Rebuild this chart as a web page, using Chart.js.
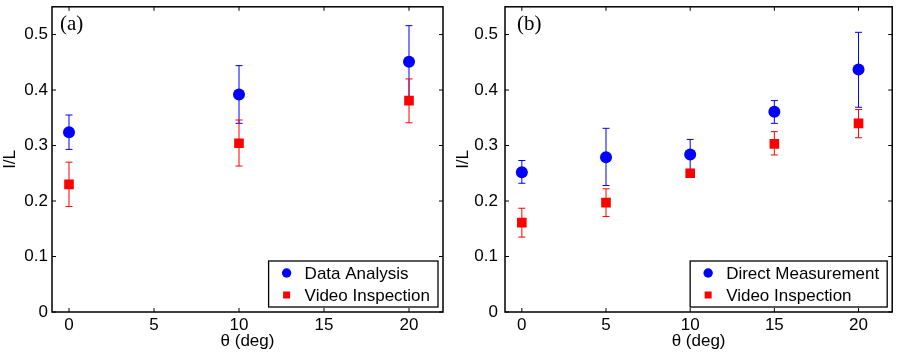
<!DOCTYPE html>
<html>
<head>
<meta charset="utf-8">
<script src="https://cdn.jsdelivr.net/npm/chart.js@4.4.1/dist/chart.umd.min.js"></script>
<style>
  html, body { margin: 0; padding: 0; background: #fff; }
  #wrap { position: relative; width: 899px; height: 353px; overflow: hidden; }
  canvas { position: absolute; top: 0; }
</style>
</head>
<body>
<div id="wrap">
  <canvas id="chartA" width="450" height="353" style="left:0px"></canvas>
  <canvas id="chartB" width="449" height="353" style="left:450px"></canvas>
</div>
<script>
// panel (a)
var anglesA = [0, 10, 20];
var analysisA = [0.324, 0.392, 0.451];
var analysisALo = [0.293, 0.340, 0.386];
var analysisAHi = [0.355, 0.444, 0.516];
var videoA = [0.230, 0.304, 0.381];
var videoALo = [0.190, 0.263, 0.341];
var videoAHi = [0.270, 0.346, 0.420];

// panel (b)
var anglesB = [0, 5, 10, 15, 20];
var directB = [0.252, 0.279, 0.284, 0.361, 0.437];
var directBLo = [0.232, 0.228, 0.257, 0.340, 0.369];
var directBHi = [0.273, 0.331, 0.311, 0.381, 0.504];
var videoB = [0.161, 0.197, 0.250, 0.303, 0.340];
var videoBLo = [0.135, 0.172, 0.250, 0.283, 0.314];
var videoBHi = [0.187, 0.222, 0.250, 0.325, 0.365];

var xTicks = [0, 5, 10, 15, 20];
var yTicks = [0, 0.1, 0.2, 0.3, 0.4, 0.5];

var FONT = '"Liberation Sans", Arial, Helvetica, sans-serif';
var SERIF = '"Liberation Serif", "Times New Roman", serif';
Chart.defaults.font.family = FONT;
Chart.defaults.font.size = 17;
Chart.defaults.color = '#000';

function pts(xs, ys) {
    return xs.map(function (x, i) { return { x: x, y: ys[i] }; });
}

// vertical error bars, drawn under the markers
var errorBars = {
    id: 'errorBars',
    beforeDatasetsDraw: function (chart) {
        var ctx = chart.ctx, sx = chart.scales.x, sy = chart.scales.y;
        chart.data.datasets.forEach(function (ds) {
            ctx.save();
            ctx.strokeStyle = ds.borderColor;
            ctx.lineWidth = 1;
            ds.data.forEach(function (p, i) {
                var lo = ds.errLo[i], hi = ds.errHi[i];
                if (hi - lo < 0.001) return;
                var px = sx.getPixelForValue(p.x);
                var y1 = sy.getPixelForValue(lo), y2 = sy.getPixelForValue(hi);
                ctx.beginPath();
                ctx.moveTo(px, y1); ctx.lineTo(px, y2);
                ctx.moveTo(px - 3.5, y1); ctx.lineTo(px + 3.5, y1);
                ctx.moveTo(px - 3.5, y2); ctx.lineTo(px + 3.5, y2);
                ctx.stroke();
            });
            ctx.restore();
        });
    }
};

// box round the axes with inward ticks, plus the panel letter
var frame = {
    id: 'frame',
    afterDraw: function (chart, args, opts) {
        var ctx = chart.ctx, a = chart.chartArea, sx = chart.scales.x, sy = chart.scales.y;
        ctx.save();
        ctx.strokeStyle = '#000';
        ctx.lineWidth = 1.5;
        ctx.strokeRect(a.left, a.top, a.right - a.left, a.bottom - a.top);
        ctx.lineWidth = 1;
        ctx.beginPath();
        xTicks.forEach(function (v) {
            var px = sx.getPixelForValue(v);
            ctx.moveTo(px, a.bottom); ctx.lineTo(px, a.bottom - 4);
            ctx.moveTo(px, a.top); ctx.lineTo(px, a.top + 4);
        });
        yTicks.forEach(function (v) {
            var py = sy.getPixelForValue(v);
            ctx.moveTo(a.left, py); ctx.lineTo(a.left + 4, py);
            ctx.moveTo(a.right, py); ctx.lineTo(a.right - 4, py);
        });
        ctx.stroke();
        ctx.fillStyle = '#000';
        ctx.font = '21px ' + SERIF;
        ctx.textBaseline = 'alphabetic';
        ctx.textAlign = 'left';
        ctx.fillText(opts.letter, a.left + opts.letterX, 30);
        ctx.restore();
    }
};

// legend box in the lower right corner of the axes
var legendBox = {
    id: 'legendBox',
    afterDraw: function (chart) {
        var ctx = chart.ctx, a = chart.chartArea;
        var sets = chart.data.datasets;
        ctx.save();
        ctx.font = '17px ' + FONT;
        var maxW = 0;
        sets.forEach(function (ds) { maxW = Math.max(maxW, ctx.measureText(ds.label).width); });
        var right = a.right - 5, bottom = a.bottom - 5;
        var w = 36 + maxW + 8, h = 46;
        var left = right - w, top = bottom - h;
        ctx.fillStyle = '#fff';
        ctx.fillRect(left, top, w, h);
        ctx.strokeStyle = '#000';
        ctx.lineWidth = 1.3;
        ctx.strokeRect(left, top, w, h);
        sets.forEach(function (ds, i) {
            var cy = top + 12 + i * 22;
            ctx.fillStyle = ds.backgroundColor;
            if (ds.pointStyle === 'circle') {
                ctx.beginPath();
                ctx.arc(left + 18, cy, 4.7, 0, Math.PI * 2);
                ctx.fill();
            } else {
                ctx.fillRect(left + 18 - 3.5, cy - 3.5, 7, 7);
            }
            ctx.fillStyle = '#000';
            ctx.textBaseline = 'middle';
            ctx.textAlign = 'left';
            ctx.fillText(ds.label, left + 36, cy + 1);
        });
        ctx.restore();
    }
};

function makePanel(id, p) {
    var ctx = document.getElementById(id).getContext('2d');
    return new Chart(ctx, {
        type: 'scatter',
        data: {
            datasets: [{
                label: p.blueLabel,
                data: pts(p.xs, p.blue),
                errLo: p.blueLo,
                errHi: p.blueHi,
                pointStyle: 'circle',
                pointRadius: 6,
                pointBorderWidth: 0,
                backgroundColor: '#0000ff',
                borderColor: '#0000ff'
            }, {
                label: 'Video Inspection',
                data: pts(p.xs, p.red),
                errLo: p.redLo,
                errHi: p.redHi,
                pointStyle: 'rect',
                pointRadius: 6.8,
                pointBorderWidth: 0,
                backgroundColor: '#ff0000',
                borderColor: '#ff0000'
            }]
        },
        options: {
            responsive: false,
            animation: false,
            layout: { padding: { left: 0, right: p.padRight, top: 3, bottom: 0 } },
            plugins: {
                legend: { display: false },
                tooltip: { enabled: false },
                frame: { letter: p.letter, letterX: p.letterX }
            },
            scales: {
                x: {
                    type: 'linear', min: -1, max: 22,
                    grid: { display: false, drawTicks: false },
                    border: { display: false },
                    afterBuildTicks: function (s) { s.ticks = xTicks.map(function (v) { return { value: v }; }); },
                    afterFit: function (s) { s.height = 41; s.paddingLeft = 0; s.paddingRight = 0; },
                    ticks: { autoSkip: false, maxRotation: 0, padding: 3, callback: function (v) { return String(v); } },
                    title: { display: true, text: 'θ (deg)', padding: { top: 0, bottom: 1 } }
                },
                y: {
                    type: 'linear', min: 0, max: 0.55,
                    grid: { display: false, drawTicks: false },
                    border: { display: false },
                    afterBuildTicks: function (s) { s.ticks = yTicks.map(function (v) { return { value: v }; }); },
                    afterFit: function (s) { s.width = p.yWidth; s.paddingTop = 0; s.paddingBottom = 0; },
                    ticks: { autoSkip: false, padding: p.yTickPad, callback: function (v) { return String(v); } },
                    title: { display: true, text: 'I/L', padding: { top: p.yTitlePad, bottom: 0 } }
                }
            }
        },
        plugins: [errorBars, frame, legendBox]
    });
}

makePanel('chartA', {
    xs: anglesA, blue: analysisA, blueLo: analysisALo, blueHi: analysisAHi,
    red: videoA, redLo: videoALo, redHi: videoAHi,
    blueLabel: 'Data Analysis', letter: '(a)', letterX: 8,
    yWidth: 52, padRight: 7, yTickPad: 4, yTitlePad: 0
});

makePanel('chartB', {
    xs: anglesB, blue: directB, blueLo: directBLo, blueHi: directBHi,
    red: videoB, redLo: videoBLo, redHi: videoBHi,
    blueLabel: 'Direct Measurement', letter: '(b)', letterX: 12,
    yWidth: 55, padRight: 2.3, yTickPad: 7, yTitlePad: 3
});
</script>
</body>
</html>
